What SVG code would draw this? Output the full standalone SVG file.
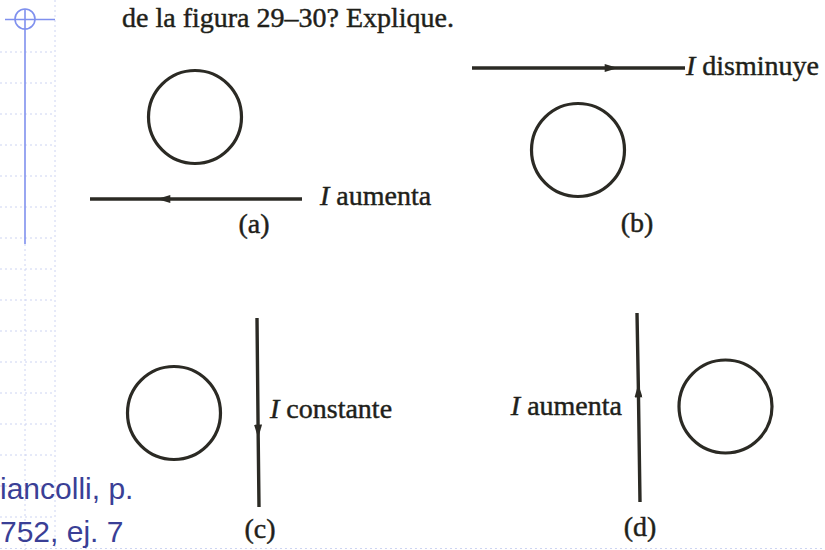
<svg xmlns="http://www.w3.org/2000/svg" width="825" height="550" viewBox="0 0 825 550">
<style>
.grid{stroke:#cdd4f2;stroke-width:1;stroke-dasharray:2 3;fill:none}
.deco{stroke:#7f90ee;stroke-width:1.6;fill:none}
.loop{fill:none;stroke:#2b2a24;stroke-width:3.2}
.wire{fill:none;stroke:#2b2a24;stroke-width:3.4;marker-mid:url(#arr)}
.t{font-family:"Liberation Serif","Times New Roman",serif;font-size:28px;fill:#1f1f1a;stroke:#1f1f1a;stroke-width:0.45}
.cap{font-family:"Liberation Serif","Times New Roman",serif;font-size:28px;fill:#1f1f1a;stroke:#1f1f1a;stroke-width:0.45;text-anchor:middle}
.ref{font-family:"Liberation Sans",Arial,sans-serif;font-size:30px;fill:#3a3f96}
</style>
<defs>
<marker id="arr" viewBox="0 0 10 6" refX="10" refY="3" markerUnits="userSpaceOnUse" markerWidth="15" markerHeight="8" orient="auto">
<path d="M0,0 L10,3 L0,6 z" fill="#2b2a24"/>
</marker>
</defs>
<rect width="825" height="550" fill="#ffffff"/>
<g id="slide-bg">
<path class="grid" d="M0,52H55M0,83H55M0,114H55M0,145H55M0,176H55M0,207H55M0,238H55M0,269H55M0,300H55M0,331H55M0,362H55M0,393H55M0,424H55M0,455H55M0,486H55M0,517H55M0,548.5H825M55,0V550M25,244V550"/>
<line class="deco" x1="5" y1="19.5" x2="55" y2="19.5"/>
<circle class="deco" cx="25" cy="19" r="10"/>
<line class="deco" x1="25" y1="9" x2="25" y2="244"/>
</g>
<text id="title" class="t" x="122" y="27">de la figura 29–30? Explique.</text>
<g id="connectors">
<path class="wire" d="M302,199 L157,199 L90,199"/>
<path class="wire" d="M472,68 L618,68 L685,68"/>
<path class="wire" d="M257,318 L258.2,438 L259,507"/>
<path class="wire" d="M640,502 L638.3,384 L637,313"/>
</g>
<g id="panel-a">
<circle class="loop" cx="195" cy="117" r="46.5"/>
<text class="t" x="320" y="205"><tspan font-style="italic">I</tspan> aumenta</text>
<text class="cap" x="254" y="233">(a)</text>
</g>
<g id="panel-b">
<circle class="loop" cx="578" cy="150" r="46.5"/>
<text class="t" x="686" y="75"><tspan font-style="italic">I</tspan> disminuye</text>
<text class="cap" x="637" y="232">(b)</text>
</g>
<g id="panel-c">
<circle class="loop" cx="174" cy="413" r="46.5"/>
<text class="t" x="270" y="418"><tspan font-style="italic">I</tspan> constante</text>
<text class="cap" x="260" y="538">(c)</text>
</g>
<g id="panel-d">
<circle class="loop" cx="725.5" cy="406.5" r="46.5"/>
<text class="t" x="622" y="415" text-anchor="end"><tspan font-style="italic">I</tspan> aumenta</text>
<text class="cap" x="640" y="536">(d)</text>
</g>
<g id="reference">
<text class="ref" x="0" y="499">iancolli, p.</text>
<text class="ref" x="0" y="542">752, ej. 7</text>
</g>
</svg>
